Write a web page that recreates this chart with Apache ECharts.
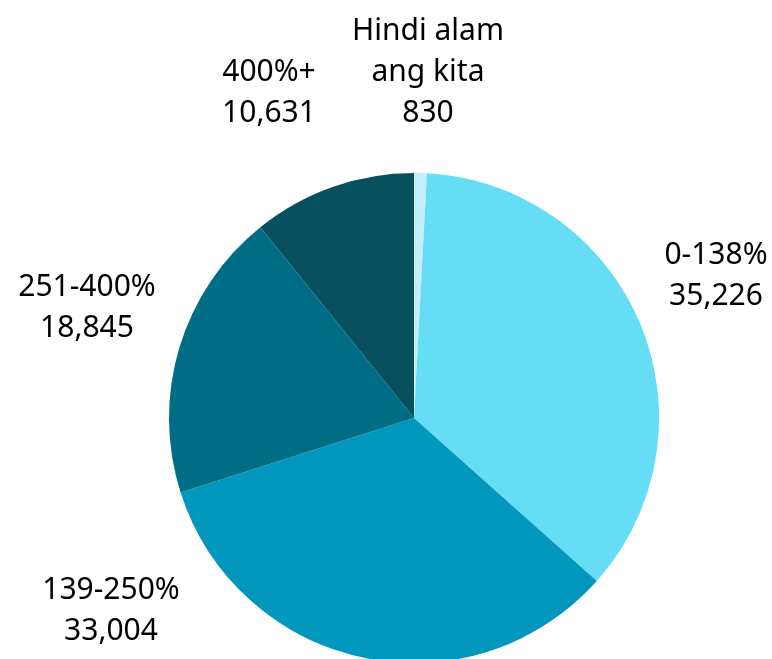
<!DOCTYPE html>
<html>
<head>
<meta charset="utf-8">
<script src="https://cdn.jsdelivr.net/npm/echarts@6/dist/echarts.min.js"></script>
<style>
  html, body { margin: 0; padding: 0; background: #fff; }
  #chart { width: 772px; height: 659px; }
</style>
</head>
<body>
<div id="chart"></div>
<script>
// data
const categories = ["Hindi alam\nang kita", "0-138%", "139-250%", "251-400%", "400%+"];
const values = [830, 35226, 33004, 18845, 10631];
const colors = ["#C4EFFA", "#65DDF5", "#0298BD", "#006D87", "#08505E"];

// label centres (pixel), same order as categories
const labelPos = [
  [428, 72],
  [716, 276],
  [111, 611],
  [87, 308],
  [269, 93]
];

const chart = echarts.init(document.getElementById("chart"));
chart.setOption({
  animation: false,
  series: [
    {
      type: "pie",
      center: [414, 418],
      radius: 245,
      startAngle: 90,
      clockwise: true,
      avoidLabelOverlap: false,
      itemStyle: { borderWidth: 0 },
      emphasis: { disabled: true },
      label: {
        show: true,
        position: "outside",
        formatter: (p) => p.name + "\n" + p.value.toLocaleString("en-US"),
        fontFamily: "Noto Sans",
        fontSize: 30,
        lineHeight: 41,
        color: "#000",
        align: "center"
      },
      labelLine: { show: false },
      labelLayout: (params) => ({
        x: labelPos[params.dataIndex][0],
        y: labelPos[params.dataIndex][1],
        align: "center",
        verticalAlign: "middle"
      }),
      data: categories.map((c, i) => ({
        name: c,
        value: values[i],
        itemStyle: { color: colors[i] }
      }))
    }
  ]
});
</script>
</body>
</html>
